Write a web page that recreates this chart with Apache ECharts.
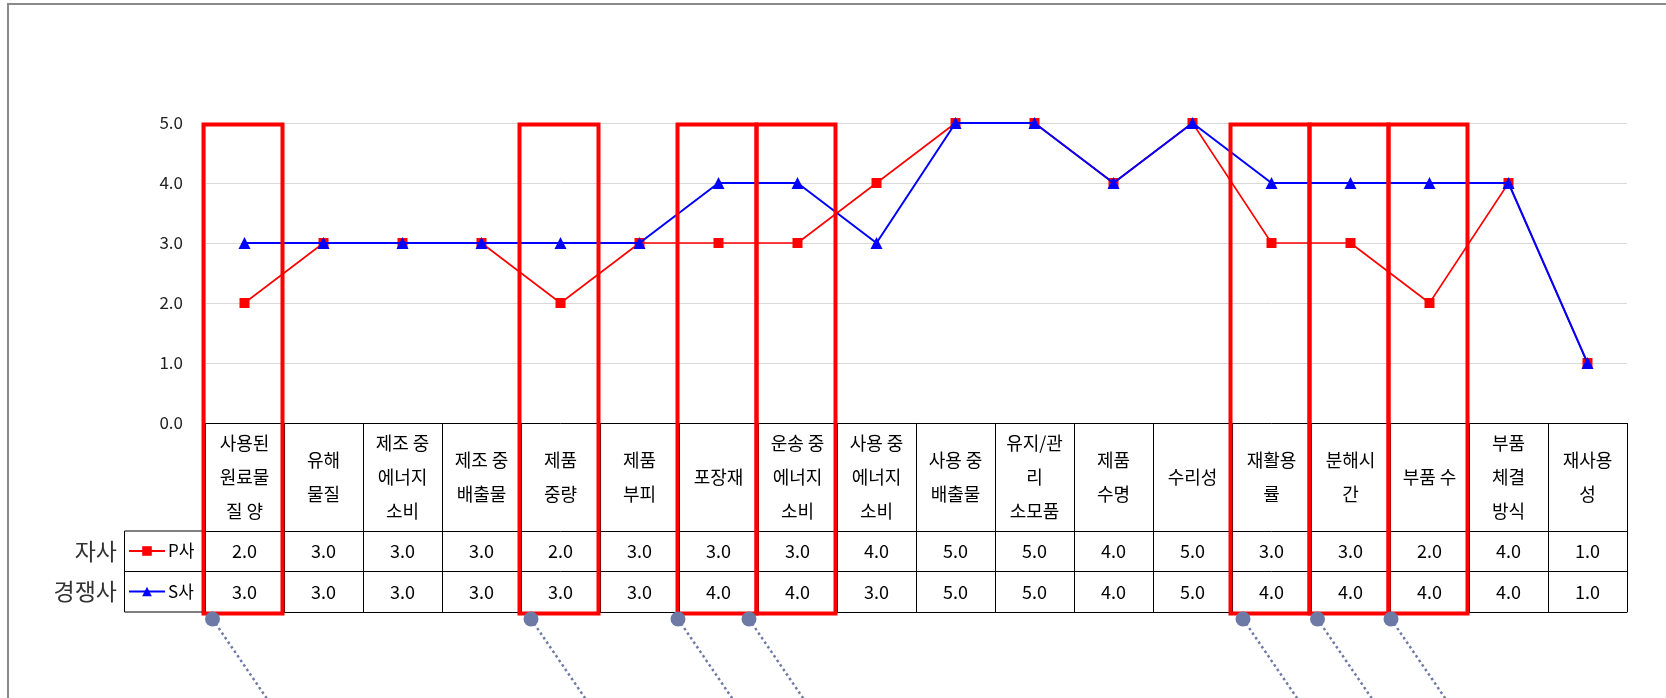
<!DOCTYPE html>
<html>
<head>
<meta charset="utf-8">
<script src="https://cdn.jsdelivr.net/npm/echarts@6/dist/echarts.min.js"></script>
<style>
  html, body { margin: 0; padding: 0; background: #fff; }
  #chart { width: 1666px; height: 698px; }
</style>
</head>
<body>
<div id="chart"></div>
<script>
// Evaluation items (table header / x categories)
const categories = [
  '사용된\n원료물\n질 양', '유해\n물질', '제조 중\n에너지\n소비', '제조 중\n배출물',
  '제품\n중량', '제품\n부피', '포장재', '운송 중\n에너지\n소비',
  '사용 중\n에너지\n소비', '사용 중\n배출물', '유지/관\n리\n소모품', '제품\n수명',
  '수리성', '재활용\n률', '분해시\n간', '부품 수', '부품\n체결\n방식', '재사용\n성'
];
// Scores per item
const seriesNames = ['P사', 'S사'];
const rowLabels = ['자사', '경쟁사'];
const pScores = [2, 3, 3, 3, 2, 3, 3, 3, 4, 5, 5, 4, 5, 3, 3, 2, 4, 1];
const sScores = [3, 3, 3, 3, 3, 3, 4, 4, 3, 5, 5, 4, 5, 4, 4, 4, 4, 1];
// Items outlined in red
const highlighted = [0, 4, 6, 7, 13, 14, 15];
// Y axis range
const yMin = 0, yMax = 5, yStep = 1;

const FONT = '"Noto Sans CJK KR", "Noto Sans", sans-serif';
const HEADER_H = 108;   // header row height of the data table
const ROW_H = 40.5;     // value row height
const TABLE_H = HEADER_H + 2 * ROW_H;

const chart = echarts.init(document.getElementById('chart'), null, { renderer: 'canvas' });

const fmt = v => Number(v).toFixed(1);

const option = {
  backgroundColor: '#fff',
  animation: false,
  textStyle: { fontFamily: FONT },
  grid: { left: 205, right: 39, top: 123, bottom: 275, containLabel: false, outerBoundsMode: 'none' },
  legend: {
    orient: 'vertical',
    left: 128, top: 541,
    padding: 0,
    itemWidth: 36, itemHeight: 12, itemGap: 20.5,
    textStyle: { fontFamily: FONT, fontSize: 17, color: '#000', lineHeight: 20, padding: [0, 0, 0, -2] },
    data: seriesNames,
    selectedMode: false
  },
  xAxis: [
    {
      type: 'category', data: categories, position: 'bottom',
      axisLine: { show: true, lineStyle: { color: '#000', width: 1 } },
      axisTick: { show: true, interval: 0, length: TABLE_H, lineStyle: { color: '#000', width: 1 } },
      axisLabel: {
        interval: 0, margin: HEADER_H / 2, verticalAlign: 'middle',
        fontFamily: FONT, fontSize: 18, lineHeight: 34, color: '#000', align: 'center'
      },
      splitLine: { show: false }
    },
    {
      type: 'category', data: pScores.map(fmt), position: 'bottom', offset: HEADER_H,
      axisLine: { show: true, lineStyle: { color: '#000', width: 1 } },
      axisTick: { show: false },
      axisLabel: { interval: 0, margin: ROW_H / 2, verticalAlign: 'middle', fontFamily: FONT, fontSize: 18, color: '#000' }
    },
    {
      type: 'category', data: sScores.map(fmt), position: 'bottom', offset: HEADER_H + ROW_H,
      axisLine: { show: true, lineStyle: { color: '#000', width: 1 } },
      axisTick: { show: false },
      axisLabel: { interval: 0, margin: ROW_H / 2, verticalAlign: 'middle', fontFamily: FONT, fontSize: 18, color: '#000' }
    },
    {
      type: 'category', data: categories, position: 'bottom', offset: TABLE_H,
      axisLine: { show: true, lineStyle: { color: '#000', width: 1 } },
      axisTick: { show: false },
      axisLabel: { show: false }
    }
  ],
  yAxis: {
    type: 'value', min: yMin, max: yMax, interval: yStep,
    axisLine: { show: true, lineStyle: { color: '#d9d9d9', width: 1 } },
    axisTick: { show: false },
    axisLabel: { formatter: fmt, margin: 22, fontFamily: FONT, fontSize: 17, color: '#222' },
    splitLine: { show: true, lineStyle: { color: '#d9d9d9', width: 1 } }
  },
  series: [
    {
      name: seriesNames[0], type: 'line', data: pScores,
      symbol: 'rect', symbolSize: 10,
      lineStyle: { color: '#ff0000', width: 1.6 },
      itemStyle: { color: '#ff0000' },
      z: 3
    },
    {
      name: seriesNames[1], type: 'line', data: sScores,
      symbol: 'triangle', symbolSize: 12,
      lineStyle: { color: '#0000ff', width: 2 },
      itemStyle: { color: '#0000ff' },
      z: 4
    }
  ]
};

chart.setOption(option);

// Overlays: outer frame, legend column cells, row captions, red outlines and callouts
function buildOverlays() {
  const c0 = chart.convertToPixel({ xAxisIndex: 0 }, 0);
  const c1 = chart.convertToPixel({ xAxisIndex: 0 }, 1);
  const band = c1 - c0;
  const gridLeft = c0 - band / 2;
  const yTop = chart.convertToPixel({ yAxisIndex: 0 }, yMax);
  const yBase = chart.convertToPixel({ yAxisIndex: 0 }, yMin);
  const row1 = yBase + HEADER_H, row2 = row1 + ROW_H, row3 = row2 + ROW_H;
  const legendLeft = 124.5;

  const elements = [];
  // outer frame (runs past the right and bottom edges)
  elements.push({
    type: 'rect', shape: { x: 8, y: 4, width: 1800, height: 900 },
    style: { fill: null, stroke: '#8a8a8a', lineWidth: 2 }, silent: true, z: 0
  });
  // legend column borders
  [row1, row2, row3].forEach(y => elements.push({
    type: 'line', shape: { x1: legendLeft, y1: y, x2: gridLeft, y2: y },
    style: { stroke: '#000', lineWidth: 1 }, silent: true
  }));
  elements.push({
    type: 'line', shape: { x1: legendLeft, y1: row1, x2: legendLeft, y2: row3 },
    style: { stroke: '#000', lineWidth: 1 }, silent: true
  });
  // row captions
  rowLabels.forEach((t, i) => elements.push({
    type: 'text', x: 117, y: (i === 0 ? (row1 + row2) / 2 : (row2 + row3) / 2),
    style: { text: t, fontFamily: FONT, fontSize: 23, fill: '#333', align: 'right', verticalAlign: 'middle' },
    silent: true
  }));

  // red outlines around highlighted items, with callout dots and dotted leaders
  const dotOffsets = [7.5, 10, -1, -9, 11, 6.5, 1];
  highlighted.forEach((idx, k) => {
    const cx = chart.convertToPixel({ xAxisIndex: 0 }, idx);
    const left = cx - band / 2 - 1.5;
    elements.push({
      type: 'rect', shape: { x: left, y: yTop + 1.5, width: band, height: row3 - yTop },
      style: { fill: null, stroke: '#ff0000', lineWidth: 4 }, silent: true, z: 20
    });
    const dx = cx - band / 2 + dotOffsets[k];
    const dy = row3 + 7;
    elements.push({
      type: 'line', shape: { x1: dx, y1: dy, x2: dx + 54 * 1.2, y2: dy + 79 * 1.2 },
      style: { stroke: '#6e7aa6', lineWidth: 2.5, lineDash: [2.5, 3] }, silent: true, z: 21
    });
    elements.push({
      type: 'circle', shape: { cx: dx, cy: dy, r: 7.5 },
      style: { fill: '#6e7aa6' }, silent: true, z: 22
    });
  });

  chart.setOption({ graphic: { elements } });
}
buildOverlays();
</script>
</body>
</html>
